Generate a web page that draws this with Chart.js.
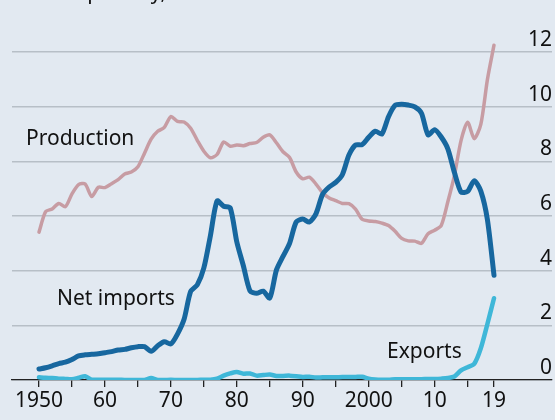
<!DOCTYPE html>
<html><head><meta charset="utf-8">
<script src="https://cdn.jsdelivr.net/npm/chart.js@4"></script>
<style>
html,body{margin:0;padding:0;background:#e2e9f1;}
#wrap{width:555px;height:420px;position:relative;overflow:hidden;}
</style></head><body>
<div id="wrap"><canvas id="c" width="555" height="420"></canvas></div>
<script>
const years = [1950,1951,1952,1953,1954,1955,1956,1957,1958,1959,
  1960,1961,1962,1963,1964,1965,1966,1967,1968,1969,
  1970,1971,1972,1973,1974,1975,1976,1977,1978,1979,
  1980,1981,1982,1983,1984,1985,1986,1987,1988,1989,
  1990,1991,1992,1993,1994,1995,1996,1997,1998,1999,
  2000,2001,2002,2003,2004,2005,2006,2007,2008,2009,
  2010,2011,2012,2013,2014,2015,2016,2017,2018,2019];

const production = [5.41,6.16,6.26,6.46,6.34,6.81,7.15,7.17,6.71,7.05,
  7.04,7.18,7.33,7.54,7.61,7.80,8.30,8.81,9.10,9.24,
  9.64,9.46,9.44,9.21,8.77,8.37,8.13,8.25,8.71,8.55,
  8.60,8.57,8.65,8.69,8.88,8.97,8.68,8.35,8.14,7.61,
  7.36,7.42,7.17,6.85,6.66,6.56,6.46,6.45,6.25,5.88,
  5.82,5.80,5.74,5.65,5.44,5.18,5.09,5.08,5.00,5.35,
  5.48,5.65,6.52,7.49,8.76,9.43,8.83,9.35,10.99,12.25];

const netImports = [0.40,0.45,0.52,0.60,0.65,0.75,0.88,0.92,0.94,0.96,
  1.00,1.04,1.10,1.12,1.18,1.22,1.22,1.05,1.25,1.40,
  1.32,1.68,2.22,3.24,3.48,4.10,5.29,6.55,6.36,6.30,
  5.05,4.17,3.26,3.17,3.25,3.00,4.02,4.52,5.00,5.78,
  5.89,5.78,6.08,6.79,7.06,7.23,7.51,8.23,8.60,8.61,
  8.88,9.10,9.00,9.63,10.05,10.09,10.06,9.99,9.76,8.97,
  9.16,8.89,8.46,7.59,6.88,6.90,7.29,6.91,5.87,3.83];

const exportsData = [0.10,0.08,0.07,0.05,0.04,0.03,0.08,0.14,0.01,0.01,
  0.01,0.01,0.01,0.00,0.00,0.00,0.00,0.07,0.00,0.00,
  0.01,0.00,0.00,0.00,0.00,0.01,0.01,0.05,0.16,0.24,
  0.29,0.23,0.24,0.16,0.18,0.20,0.15,0.15,0.16,0.14,
  0.11,0.12,0.09,0.10,0.10,0.10,0.11,0.11,0.11,0.12,
  0.05,0.02,0.01,0.01,0.03,0.03,0.03,0.03,0.03,0.04,
  0.04,0.05,0.07,0.13,0.35,0.47,0.59,1.16,2.05,2.99];

const yTicks = [0,2,4,6,8,10,12];
const xTicks = [1950,1955,1960,1965,1970,1975,1980,1985,1990,1995,2000,2005,2010,2015,2019];
const xTickLabels = {1950:'1950',1960:'60',1970:'70',1980:'80',1990:'90',2000:'2000',2010:'10',2019:'19'};

const FONT = '"Noto Sans", "Open Sans", sans-serif';

function pts(arr){ return years.map((yr,i)=>({x:yr,y:arr[i]})); }

const textPlugin = {
  id:'texts',
  afterDraw(chart){
    const ctx = chart.ctx;
    const ys = chart.scales.y;
    const area = chart.chartArea;
    ctx.save();
    ctx.fillStyle = '#111';
    ctx.font = '21px ' + FONT;
    ctx.textBaseline = 'alphabetic';
    ctx.textAlign = 'right';
    yTicks.forEach(v=>{
      ctx.fillText(String(v), area.right, ys.getPixelForValue(v) - 6);
    });
    ctx.textAlign = 'left';
    ctx.fillText('Production', 26, 145);
    ctx.fillText('Net imports', 57, 305);
    ctx.fillText('Exports', 387, 358);
    ctx.fillText('Barrels per day, m', 12, -1);
    ctx.restore();
  }
};

new Chart(document.getElementById('c'), {
  type:'line',
  data:{
    datasets:[
      {label:'Production', data:pts(production), borderColor:'#c79ca3', borderWidth:3.5, order:3},
      {label:'Net imports', data:pts(netImports), borderColor:'#17679f', borderWidth:5, order:2},
      {label:'Exports', data:pts(exportsData), borderColor:'#3fb7d8', borderWidth:4.5, order:1}
    ]
  },
  options:{
    responsive:false,
    animation:false,
    devicePixelRatio:1,
    layout:{padding:{left:12,right:3,top:11,bottom:0}},
    elements:{point:{radius:0}, line:{tension:0.25, borderCapStyle:'round', borderJoinStyle:'round', fill:false}},
    plugins:{legend:{display:false}, tooltip:{enabled:false}},
    scales:{
      x:{
        type:'linear', position:'bottom',
        min:1945.905, max:2027.796,
        afterBuildTicks:(s)=>{ s.ticks = xTicks.map(v=>({value:v})); },
        afterFit:(s)=>{ s.height = 40; },
        grid:{drawOnChartArea:false, drawTicks:true, tickLength:7, color:'#222', lineWidth:1.3},
        border:{display:true, color:'#222', width:1.3},
        ticks:{
          callback:(v)=> (xTickLabels[v] !== undefined ? xTickLabels[v] : ''),
          font:{family:FONT, size:21}, color:'#111', padding:1,
          maxRotation:0, minRotation:0, autoSkip:false
        }
      },
      y:{
        type:'linear', position:'right',
        min:0, max:13.5,
        afterBuildTicks:(s)=>{ s.ticks = yTicks.map(v=>({value:v})); },
        afterFit:(s)=>{ s.width = 0; },
        grid:{color:'#b7bfc7', lineWidth:1.5, drawTicks:false},
        border:{display:false},
        ticks:{display:false}
      }
    }
  },
  plugins:[textPlugin]
});
</script>
</body></html>
